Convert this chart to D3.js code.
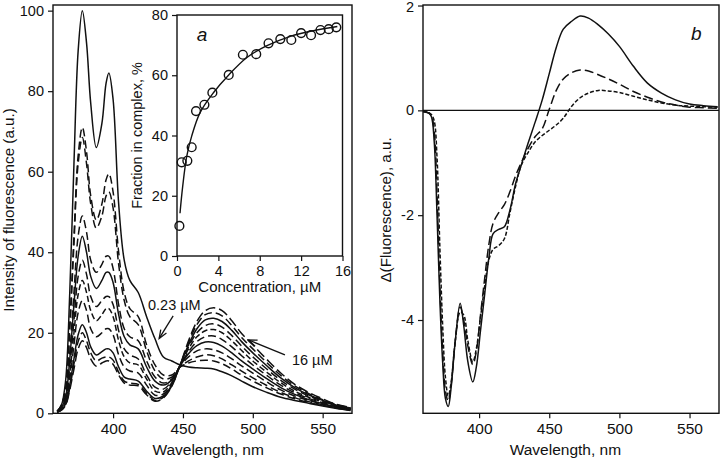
<!DOCTYPE html>
<html><head><meta charset="utf-8">
<script src="https://cdn.jsdelivr.net/npm/d3@7"></script>
<style>
body{margin:0;background:#fff;}
svg{display:block;font-family:"Liberation Sans",Arial,sans-serif;}
</style></head>
<body><svg id="c" width="720" height="460"></svg>
<script>
// ---------- Panel a: emission spectra ----------
const wavelengths = [360,363,366,369,372,375,378,381,384,388,392,395,397,400,404,408,412,418,424,430,436,442,448,454,460,466,472,478,485,492,500,510,520,530,540,550,560,570];
const spectra = [
 [0.5,2,8,30,62,90,100,92,77,66,72,82,84.5,78,52,38,33,30,24,18.5,14,13,12,11.5,11.3,11.2,11,10.3,9.3,8,6.6,5.2,4,3.2,2.5,1.8,1.2,0.7],
 [0.5,2,6,22,44,64,71,65,54,48,52,58,59.5,55,40,30,26,24,17,12,9.5,9.5,11.5,12.5,13,13.2,13,12.3,11,9.5,8,6.3,4.8,3.6,2.7,2,1.3,0.8],
 [0.5,2,6,21,42,62,68.5,62,52,46,49,54,55,51,37,28,24,22,15.5,10.5,8.5,9,11.5,13,14,14.5,14.3,13.5,12,10.5,8.8,6.9,5.2,3.9,2.9,2.1,1.4,0.9],
 [0.4,1.5,4.5,15,30,44,49,45,38,35,37,39,39,36,27,21,19,18,13,9,7.5,8.5,11.7,14,15.5,16,15.8,15,13.5,11.8,10,7.8,5.8,4.3,3.2,2.3,1.5,1],
 [0.4,1.4,4,13.5,27,39,44,40,34,31,33,35,35,32.5,24.5,19,17,16,11.5,8,7,8.3,11.8,14.8,16.8,17.7,17.6,16.7,15,13,11,8.6,6.4,4.7,3.4,2.4,1.6,1],
 [0.3,1.2,3.5,11.5,23,34,38,34.5,29,26.5,28,29,29,27,20.5,16,14.5,13.5,9.5,6.5,6,8,11.8,15.3,17.8,19,19.2,18.3,16.5,14.3,12,9.4,7,5.1,3.7,2.6,1.7,1.1],
 [0.3,1.1,3,10,20,29.5,33,30,25.5,23,24.5,26,26,24,18,14,12.5,12,8.5,5.5,5.3,7.6,11.9,16,19,20.5,20.8,20,18,15.6,13,10.2,7.6,5.5,4,2.8,1.8,1.1],
 [0.3,1,2.7,8.5,17,25,28,25.5,21,19,20,21,21,19.5,14.5,11.5,10.5,10,7,4.5,4.8,7.3,12,16.5,20,21.8,22.2,21.4,19.3,16.7,14,11,8.2,6,4.3,3,1.9,1.2],
 [0.3,0.9,2.3,7,13.5,19.5,22,20,16.5,14.5,15.3,16,16,15,11.5,9,8.5,8,5.5,3.7,4.3,7,12,17,21,23.2,23.6,22.8,20.6,17.8,15,11.8,8.8,6.4,4.6,3.2,2,1.3],
 [0.3,0.8,2.1,6.3,12.3,17.8,20,18,15,13,13.7,14,14,13.2,10.2,8,7.5,7.2,5,3.2,4,6.8,12,17.5,22,24.5,25,24.2,21.8,18.8,16,12.6,9.4,6.8,4.9,3.4,2.1,1.4],
 [0.3,0.8,2,5.8,11,16,18,16.3,13.5,11.7,12.5,13,13,12.2,9.5,7.5,7,6.8,4.6,3,3.8,6.7,12,18,22.8,25.5,26.2,25.5,23,19.8,17,13.4,10,7.2,5.2,3.6,2.2,1.5]
];
const spectraDash = ["none","8,4","8,4","8,4","none","8,4","6,3","8,4","none","8,4","10,4"];
const xTicksA = [400,450,500,550];
const yTicksA = [0,20,40,60,80,100];

// ---------- Inset: binding curve ----------
const concentration = [0.23,0.45,1.0,1.42,1.84,2.65,3.42,5.0,6.37,7.66,8.85,9.99,11.05,12.0,12.96,13.87,14.67,15.4];
const fraction = [10,31.1,31.6,36.1,48.1,50.2,54.2,60.1,66.8,67,70.6,72,71.7,74,73.3,75,75.3,75.9];
const fitConc = [0.29,0.55,0.94,1.42,2.23,3.52,5.0,6.76,8.7,10.96,13.2,15.5];
const fitFrac = [14.2,23.1,33.1,39.8,47.6,54.2,60.1,65.9,69.8,72.9,74.8,76.2];
const xTicksIn = [0,4,8,12,16];
const yTicksIn = [0,20,40,60,80];

// ---------- Panel b: difference spectra ----------
const wavelengthsB = [360,364,366,368,370,372,374,376,378,380,383,386.5,389,392,395.5,398,401,404,407,410,414,418,422,426,430,435,440,445,450,455,460,466,472,478,485,492,500,510,520,530,540,550,560,570];
const diffSolid = [-0.02,-0.05,-0.12,-0.6,-2.0,-3.6,-4.8,-5.5,-5.65,-5.3,-4.4,-3.68,-4.1,-4.8,-5.18,-4.9,-4.2,-3.5,-2.8,-2.35,-2.27,-2.22,-1.9,-1.4,-1.05,-0.62,-0.22,0.2,0.7,1.2,1.55,1.7,1.8,1.76,1.63,1.46,1.22,0.84,0.52,0.33,0.2,0.12,0.09,0.07];
const diffLong = [-0.02,-0.05,-0.1,-0.4,-1.6,-3.3,-4.6,-5.35,-5.55,-5.25,-4.4,-3.75,-4.0,-4.5,-4.85,-4.6,-3.9,-3.2,-2.55,-2.15,-1.95,-1.8,-1.55,-1.25,-1.0,-0.72,-0.5,-0.35,0.02,0.38,0.6,0.72,0.77,0.75,0.68,0.6,0.5,0.36,0.25,0.16,0.1,0.06,0.05,0.04];
const diffShort = [-0.02,-0.04,-0.08,-0.2,-0.9,-2.6,-4.1,-5.1,-5.45,-5.2,-4.4,-3.85,-3.9,-4.4,-4.8,-4.55,-3.95,-3.35,-2.85,-2.65,-2.58,-2.45,-1.95,-1.45,-1.05,-0.8,-0.6,-0.48,-0.38,-0.28,-0.15,0.08,0.24,0.33,0.38,0.37,0.34,0.27,0.2,0.14,0.1,0.08,0.07,0.06];
const diffDash = ["none","9,4","4,2"];
const xTicksB = [400,450,500,550];
const yTicksB = [-4,-2,0,2];

const svg = d3.select("#c");
const ink = "#111";
const fmt = d => String(d);

function frameAxes(g, x, y, xt, yt, fsx, fsy){
  const [x0,x1] = x.range(), [y0,y1] = y.range();
  g.append("rect").attr("x",x0).attr("y",y1).attr("width",x1-x0).attr("height",y0-y1)
    .attr("fill","none").attr("stroke",ink).attr("stroke-width",1.4);
  const ax = g.append("g").attr("transform",`translate(0,${y0})`)
    .call(d3.axisBottom(x).tickValues(xt).tickSize(5).tickSizeOuter(0).tickPadding(5).tickFormat(fmt));
  const ay = g.append("g").attr("transform",`translate(${x0},0)`)
    .call(d3.axisLeft(y).tickValues(yt).tickSize(5).tickSizeOuter(0).tickPadding(4).tickFormat(fmt));
  [[ax,fsx],[ay,fsy]].forEach(([a,fs])=>{
    a.select(".domain").remove();
    a.selectAll("line").attr("stroke",ink).attr("stroke-width",1.2);
    a.selectAll("text").attr("fill",ink).style("font-size",fs+"px").style("font-family","Liberation Sans, Arial, sans-serif");
  });
  return ay;
}

// ===== Panel a =====
const xA = d3.scaleLinear().domain([357,571]).range([53,352]);
const yA = d3.scaleLinear().domain([0,101.4]).range([413.3,5]);
const gA = svg.append("g");
svg.append("clipPath").attr("id","clipA").append("rect")
  .attr("x",53).attr("y",5).attr("width",299).attr("height",408.3);
const lineA = d3.line().x((d,i)=>xA(wavelengths[i])).y(d=>yA(d)).curve(d3.curveCatmullRom.alpha(0.5));
gA.append("g").attr("clip-path","url(#clipA)").selectAll("path").data(spectra).join("path")
  .attr("d",lineA).attr("fill","none").attr("stroke",ink).attr("stroke-width",1.5)
  .attr("stroke-dasharray",(d,i)=>spectraDash[i]);

// inset
const xI = d3.scaleLinear().domain([0,16]).range([177,342.5]);
const yI = d3.scaleLinear().domain([0,80]).range([256,15]);
const gI = svg.append("g");
gI.append("rect").attr("x",177).attr("y",15).attr("width",165.5).attr("height",241).attr("fill","#fff");
frameAxes(gI, xI, yI, xTicksIn, yTicksIn, 14.5, 14.5);
frameAxes(gA, xA, yA, xTicksA, yTicksA, 15.5, 14.5);

const fitLine = d3.line().x((d,i)=>xI(fitConc[i])).y(d=>yI(d)).curve(d3.curveCatmullRom.alpha(0.5));
gI.append("path").datum(fitFrac).attr("d",fitLine).attr("fill","none").attr("stroke",ink).attr("stroke-width",1.4);
gI.selectAll("circle").data(fraction).join("circle")
  .attr("cx",(d,i)=>xI(concentration[i])).attr("cy",d=>yI(d)).attr("r",4.4)
  .attr("fill","none").attr("stroke",ink).attr("stroke-width",1.4);
gI.append("text").attr("x",xI(1.9)).attr("y",yI(71.5)).attr("font-size",19).attr("font-style","italic").attr("fill",ink).text("a");
gI.append("text").attr("transform",`translate(${xI(-3.4)},${yI(40)}) rotate(-90)`).attr("text-anchor","middle")
  .attr("font-size",14.5).attr("fill",ink).text("Fraction in complex, %");
gI.append("text").attr("x",xI(8)).attr("y",292).attr("text-anchor","middle").attr("font-size",15).attr("fill",ink).text("Concentration, \u00b5M");

// axis titles a
gA.append("text").attr("transform",`translate(14,${yA(50.5)}) rotate(-90)`).attr("text-anchor","middle")
  .attr("font-size",15.2).attr("fill",ink).text("Intensity of fluorescence (a.u.)");
gA.append("text").attr("x",xA(468)).attr("y",455).attr("text-anchor","middle").attr("font-size",15.5).attr("fill",ink).text("Wavelength, nm");

// annotations
function arrow(g, x, y, p0, p1){
  const ax0=x(p0[0]), ay0=y(p0[1]), ax1=x(p1[0]), ay1=y(p1[1]);
  g.append("line").attr("x1",ax0).attr("y1",ay0).attr("x2",ax1).attr("y2",ay1).attr("stroke",ink).attr("stroke-width",1.3);
  const ang = Math.atan2(ay1-ay0, ax1-ax0), L=9, w=0.38;
  const pts = [[ax1-L*Math.cos(ang-w), ay1-L*Math.sin(ang-w)],[ax1,ay1],[ax1-L*Math.cos(ang+w), ay1-L*Math.sin(ang+w)]];
  g.append("path").attr("d",d3.line()(pts)).attr("fill","none").attr("stroke",ink).attr("stroke-width",1.3);
}
gA.append("text").attr("x",xA(425)).attr("y",yA(25.7)).attr("font-size",14.5).attr("fill",ink).text("0.23 \u00b5M");
arrow(gA, xA, yA, [443,24.2], [433,18.6]);
gA.append("text").attr("x",xA(528)).attr("y",yA(12)).attr("font-size",14.5).attr("fill",ink).text("16 \u00b5M");
arrow(gA, xA, yA, [523,14.5], [497,18.2]);

// ===== Panel b =====
const xB = d3.scaleLinear().domain([360,571]).range([423,719]);
const yB = d3.scaleLinear().domain([-5.78,2.01]).range([413.3,5]);
const gB = svg.append("g");
const ayB = frameAxes(gB, xB, yB, xTicksB, yTicksB, 15.5, 14.5);
ayB.selectAll("text").filter(d=>d===2).attr("dy","0.42em");
gB.append("line").attr("x1",xB.range()[0]).attr("x2",xB.range()[1]).attr("y1",yB(0)).attr("y2",yB(0))
  .attr("stroke",ink).attr("stroke-width",1.1);
svg.append("clipPath").attr("id","clipB").append("rect")
  .attr("x",423).attr("y",5).attr("width",296).attr("height",408.3);
const lineB = d3.line().x((d,i)=>xB(wavelengthsB[i])).y(d=>yB(d)).curve(d3.curveCatmullRom.alpha(0.5));
gB.append("g").attr("clip-path","url(#clipB)").selectAll("path").data([diffSolid,diffLong,diffShort]).join("path")
  .attr("d",lineB).attr("fill","none").attr("stroke",ink).attr("stroke-width",1.5)
  .attr("stroke-dasharray",(d,i)=>diffDash[i]);
gB.append("text").attr("x",xB(551)).attr("y",yB(1.35)).attr("font-size",19).attr("font-style","italic").attr("fill",ink).text("b");
gB.append("text").attr("transform",`translate(391,${yB(-1.9)}) rotate(-90)`).attr("text-anchor","middle")
  .attr("font-size",15.2).attr("fill",ink).text("\u0394(Fluorescence), a.u.");
gB.append("text").attr("x",xB(461.5)).attr("y",455).attr("text-anchor","middle").attr("font-size",15.5).attr("fill",ink).text("Wavelength, nm");
</script></body></html>
